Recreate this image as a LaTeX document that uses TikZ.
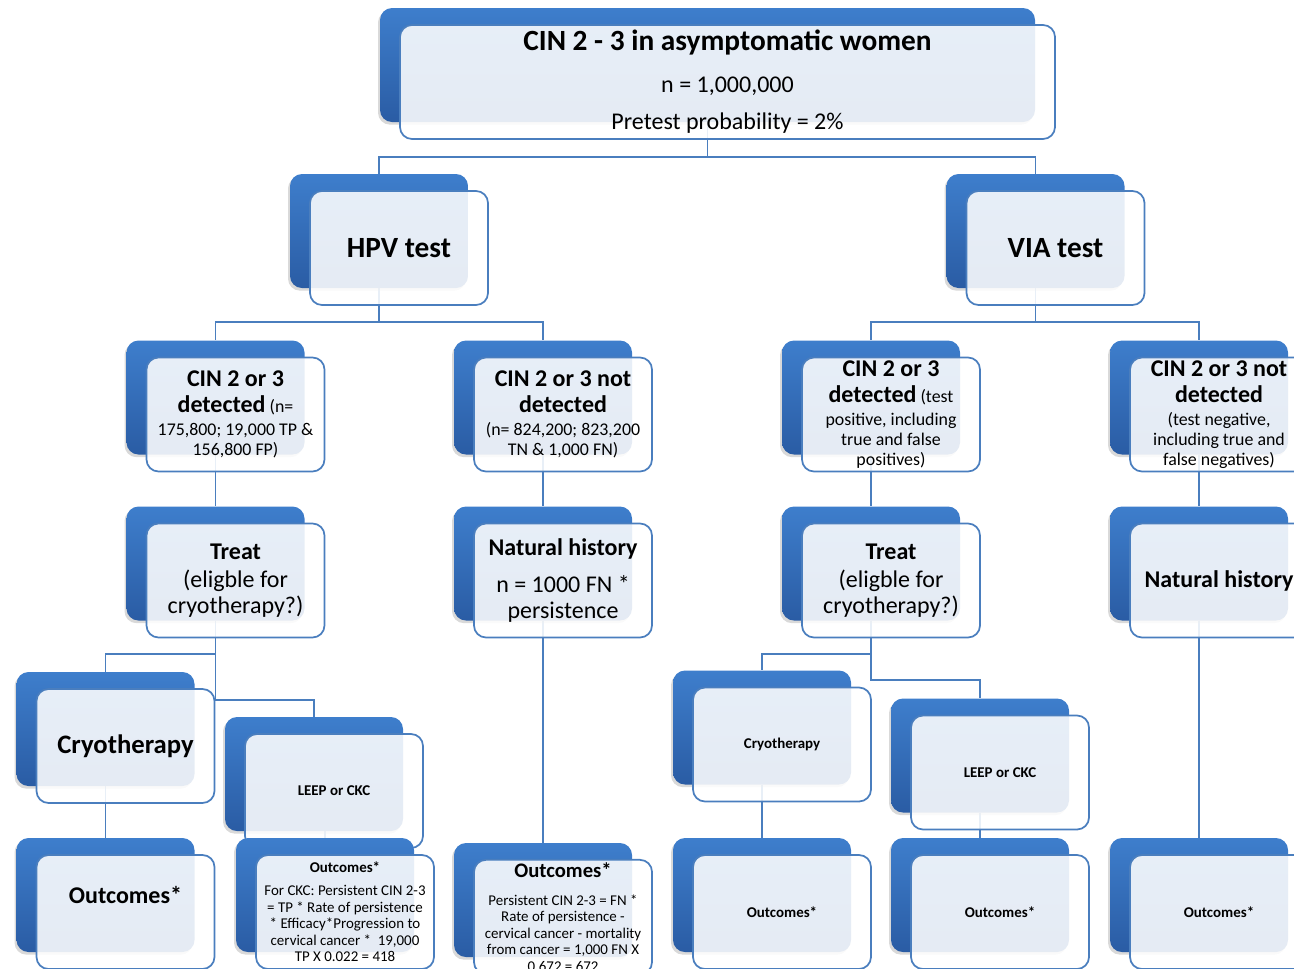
\documentclass[tikz,border=0pt]{standalone}
\usepackage{fontspec}
\setmainfont{Carlito}
\usetikzlibrary{positioning, shadows, backgrounds, calc}
\definecolor{cardtop}{RGB}{62, 126, 204}
\definecolor{cardbot}{RGB}{42, 92, 164}
\definecolor{edge}{RGB}{74, 126, 190}
\newcommand\bigsz{\fontsize{22}{26}\selectfont}
\newcommand\midsz{\fontsize{18}{19.5}\selectfont}
\newcommand\smsz{\fontsize{13.4}{15}\selectfont}
\newcommand\tinysz{\fontsize{11.2}{12.4}\selectfont}

\begin{document}
\begin{tikzpicture}[
    x=0.75pt, y=-0.75pt,
    backbox/.style={rounded corners=9pt, minimum width=133.5pt, minimum height=85.5pt,
                    inner sep=0pt, top color=cardtop, bottom color=cardbot,
                    drop shadow={shadow xshift=-1.5pt, shadow yshift=-2pt, opacity=0.3}},
    cardbox/.style={draw=edge, line width=1.3pt, rounded corners=9pt, fill=white,
                    fill opacity=0.88, text opacity=1, minimum width=133.5pt,
                    minimum height=85.5pt, inner sep=2pt, align=center, font=\smsz},
    link/.style={draw=edge, line width=1.4pt},
  ]
  \useasboundingbox (0,0) rectangle (1294,968);

  % root
  \node[backbox, minimum width=491.25pt] (topb) at (707.5,65) {};
  \node[cardbox, minimum width=491.25pt, font={\fontsize{18}{27.75}\selectfont}] (top)
    at ([shift={(20,17)}]topb.center)
    {{\bigsz\bfseries CIN 2 - 3 in asymptomatic women}\\[3.75pt]n = 1,000,000\\Pretest probability = 2\%};

  % tests
  \node[backbox] (hpvb) at (379,231) {};
  \node[cardbox, font=\bigsz\bfseries] (hpv) at ([shift={(20,17)}]hpvb.center) {HPV test};
  \node[backbox] (viab) at (1035.5,231) {};
  \node[cardbox, font=\bigsz\bfseries] (via) at ([shift={(20,17)}]viab.center) {VIA test};

  % detected / not detected
  \node[backbox] (hdetb) at (215.5,397.5) {};
  \node[cardbox] (hdet) at ([shift={(20,17)}]hdetb.center)
    {{\midsz\bfseries CIN 2 or 3}\\[4.5pt]{\midsz\bfseries detected} (n=\\[2.25pt]175,800; 19,000 TP \&\\156,800 FP)};
  \node[backbox] (hndetb) at (543,397.5) {};
  \node[cardbox] (hndet) at ([shift={(20,17)}]hndetb.center)
    {{\midsz\bfseries CIN 2 or 3 not}\\[4.5pt]{\midsz\bfseries detected}\\[2.25pt](n= 824,200; 823,200\\TN \& 1,000 FN)};
  \node[backbox] (vdetb) at (871,397.5) {};
  \node[cardbox] (vdet) at ([shift={(20,17)}]vdetb.center)
    {{\midsz\bfseries CIN 2 or 3}\\[4.5pt]{\midsz\bfseries detected} (test\\[2.25pt]positive, including\\true and false\\positives)};
  \node[backbox] (vndetb) at (1199,397.5) {};
  \node[cardbox] (vndet) at ([shift={(20,17)}]vndetb.center)
    {{\midsz\bfseries CIN 2 or 3 not}\\[4.5pt]{\midsz\bfseries detected}\\[2.25pt](test negative,\\including true and\\false negatives)};

  % treat / natural history
  \node[backbox] (htreatb) at (215.5,563.5) {};
  \node[cardbox, font=\midsz] (htreat) at ([shift={(20,17)}]htreatb.center)
    {\textbf{Treat}\\[1pt](eligble for\\cryotherapy?)};
  \node[backbox] (hnhb) at (543,563.5) {};
  \node[cardbox, font=\midsz] (hnh) at ([shift={(20,17)}]hnhb.center)
    {\textbf{Natural history}\\[8.25pt]n = 1000 FN *\\persistence};
  \node[backbox] (vtreatb) at (871,563.5) {};
  \node[cardbox, font=\midsz] (vtreat) at ([shift={(20,17)}]vtreatb.center)
    {\textbf{Treat}\\[1pt](eligble for\\cryotherapy?)};
  \node[backbox] (vnhb) at (1199,563.5) {};
  \node[cardbox, font=\midsz\bfseries] (vnh) at ([shift={(20,17)}]vnhb.center) {Natural history};

  % treatments
  \node[backbox] (hcryob) at (105.5,729) {};
  \node[cardbox, font={\fontsize{20}{24}\selectfont\bfseries}] (hcryo)
    at ([shift={(20,17)}]hcryob.center) {Cryotherapy};
  \node[backbox] (hleepb) at (314,774) {};
  \node[cardbox, font=\tinysz\bfseries] (hleep) at ([shift={(20,17)}]hleepb.center) {LEEP or CKC};
  \node[backbox] (vcryob) at (762,727.5) {};
  \node[cardbox, font=\tinysz\bfseries] (vcryo) at ([shift={(20,17)}]vcryob.center) {Cryotherapy};
  \node[backbox] (vleepb) at (980,755.5) {};
  \node[cardbox, font=\tinysz\bfseries] (vleep) at ([shift={(20,17)}]vleepb.center) {LEEP or CKC};

  % outcomes
  \node[backbox] (houtcb) at (105.5,895) {};
  \node[cardbox, font=\midsz\bfseries, text depth=26pt] (houtc)
    at ([shift={(20,17)}]houtcb.center) {Outcomes*};
  \node[backbox] (houtlb) at (325,895) {};
  \node[cardbox, font=\tinysz] (houtl) at ([shift={(20,17)}]houtlb.center)
    {\textbf{Outcomes*}\\[4.85pt]For CKC: Persistent CIN 2-3\\= TP * Rate of persistence\\* Efficacy*Progression to\\cervical cancer *~~19,000\\TP X 0.022 = 418};
  \node[backbox] (houtnb) at (543,900) {};
  \node[cardbox, font=\tinysz] (houtn) at ([shift={(20,17)}]houtnb.center)
    {{\fontsize{15.5}{17}\selectfont\bfseries Outcomes*}\\[8.6pt]Persistent CIN 2-3 = FN *\\Rate of persistence -\\cervical cancer - mortality\\from cancer = 1,000 FN X\\0.672 = 672};
  \node[backbox] (voutcb) at (762,895) {};
  \node[cardbox, font=\tinysz\bfseries] (voutc) at ([shift={(20,17)}]voutcb.center) {Outcomes*};
  \node[backbox] (voutlb) at (980,895) {};
  \node[cardbox, font=\tinysz\bfseries] (voutl) at ([shift={(20,17)}]voutlb.center) {Outcomes*};
  \node[backbox] (voutnb) at (1199,895) {};
  \node[cardbox, font=\tinysz\bfseries] (voutn) at ([shift={(20,17)}]voutnb.center) {Outcomes*};

  % connectors
  \begin{scope}[on background layer]
    \draw[link] (topb.south) -- ++(0,35) -| (hpvb.north);
    \draw[link] (topb.south) -- ++(0,35) -| (viab.north);
    \draw[link] (hpvb.south) -- ++(0,34) -| (hdetb.north);
    \draw[link] (hpvb.south) -- ++(0,34) -| (hndetb.north);
    \draw[link] (viab.south) -- ++(0,34) -| (vdetb.north);
    \draw[link] (viab.south) -- ++(0,34) -| (vndetb.north);
    \draw[link] (hdetb.south) -- (htreatb.north);
    \draw[link] (hndetb.south) -- (hnhb.north);
    \draw[link] (vdetb.south) -- (vtreatb.north);
    \draw[link] (vndetb.south) -- (vnhb.north);
    \draw[link] (htreatb.south) -- ++(0,33) -| (hcryob.north);
    \draw[link] (htreatb.south) -- ++(0,79) -| (hleepb.north);
    \draw[link] (vtreatb.south) -- ++(0,33) -| (vcryob.north);
    \draw[link] (vtreatb.south) -- ++(0,59) -| (vleepb.north);
    \draw[link] (hcryob.south) -- (houtcb.north);
    \draw[link] (hleepb.south -| houtlb.north) -- (houtlb.north);
    \draw[link] (hnhb.south) -- (houtnb.north);
    \draw[link] (vcryob.south) -- (voutcb.north);
    \draw[link] (vleepb.south) -- (voutlb.north);
    \draw[link] (vnhb.south) -- (voutnb.north);
  \end{scope}
\end{tikzpicture}
\end{document}
